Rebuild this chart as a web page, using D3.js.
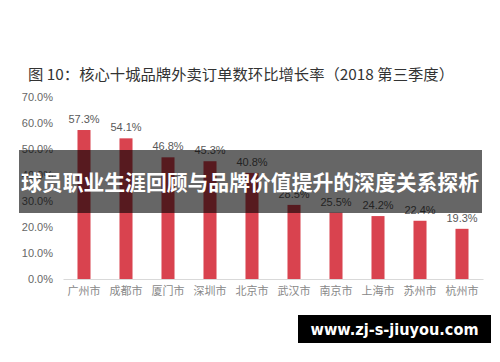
<!DOCTYPE html>
<html>
<head>
<meta charset="utf-8">
<script src="https://cdn.jsdelivr.net/npm/d3@7"></script>
<style>
  body { margin: 0; background: #fff; }
  svg { display: block; }
</style>
</head>
<body>
<div id="chart"></div>
<script>
// data
var cities = ["广州市", "成都市", "厦门市", "深圳市", "北京市", "武汉市", "南京市", "上海市", "苏州市", "杭州市"];
var growth = [57.3, 54.1, 46.8, 45.3, 40.8, 28.5, 25.5, 24.2, 22.4, 19.3];
var yTicks = [0, 10, 20, 30, 40, 50, 60, 70];
var titleText = "图 10：核心十城品牌外卖订单数环比增长率（2018 第三季度）";
var bannerText = "球员职业生涯回顾与品牌价值提升的深度关系探析";
var markText = "www.zj-s-jiuyou.com";

var width = 500, height = 362;
var margins = { top: 97, right: 17, bottom: 83, left: 63 };
var barColor = "#d9434f";
var sans = "'Liberation Sans', Arial, sans-serif";
var cjk = "'Noto Sans CJK SC', sans-serif";

var svg = d3.select("#chart").append("svg")
    .attr("width", width)
    .attr("height", height);

var x = d3.scaleBand()
    .domain(cities)
    .range([margins.left, width - margins.right])
    .paddingInner(0.69)
    .paddingOuter(0.345);

var y = d3.scaleLinear()
    .domain([0, 70])
    .range([height - margins.bottom, margins.top]);

// title
svg.append("text")
    .attr("x", 28)
    .attr("y", 80)
    .attr("font-family", cjk)
    .attr("font-size", 15)
    .attr("fill", "#333")
    .attr("textLength", 426)
    .attr("lengthAdjust", "spacingAndGlyphs")
    .text(titleText);

// y axis labels (no axis line)
var yAxis = d3.axisLeft(y)
    .tickValues(yTicks)
    .tickSize(0)
    .tickPadding(10)
    .tickFormat(function (d) { return d3.format(".1f")(d) + "%"; });

var gy = svg.append("g")
    .attr("transform", "translate(" + margins.left + ",0)")
    .call(yAxis);
gy.select(".domain").remove();
gy.selectAll("text")
    .attr("font-family", sans)
    .attr("font-size", 11)
    .attr("fill", "#666");

// bars
svg.append("g").selectAll("rect")
    .data(growth)
    .join("rect")
    .attr("x", function (d, i) { return x(cities[i]); })
    .attr("y", function (d) { return y(d); })
    .attr("width", x.bandwidth())
    .attr("height", function (d) { return y(0) - y(d); })
    .attr("fill", barColor);

// value labels
svg.append("g").selectAll("text")
    .data(growth)
    .join("text")
    .attr("x", function (d, i) { return x(cities[i]) + x.bandwidth() / 2; })
    .attr("y", function (d) { return y(d) - 7; })
    .attr("text-anchor", "middle")
    .attr("font-family", sans)
    .attr("font-size", 11)
    .attr("fill", "#595959")
    .text(function (d) { return d.toFixed(1) + "%"; });

// x axis
var xAxis = d3.axisBottom(x).tickSize(0).tickPadding(8);
var gx = svg.append("g")
    .attr("transform", "translate(0," + y(0) + ")")
    .call(xAxis);
gx.select(".domain").attr("stroke", "#d9d9d9");
gx.selectAll("text")
    .attr("font-family", cjk)
    .attr("font-size", 11)
    .attr("fill", "#888");

// overlay banner
svg.append("rect")
    .attr("x", 19)
    .attr("y", 150)
    .attr("width", 463)
    .attr("height", 63)
    .attr("fill", "#000")
    .attr("fill-opacity", 0.6);

svg.append("text")
    .attr("x", width / 2)
    .attr("y", 190)
    .attr("text-anchor", "middle")
    .attr("font-family", cjk)
    .attr("font-weight", "bold")
    .attr("font-size", 21)
    .attr("fill", "#fff")
    .attr("textLength", 458)
    .attr("lengthAdjust", "spacingAndGlyphs")
    .text(bannerText);

// watermark box
svg.append("rect")
    .attr("x", 298)
    .attr("y", 315)
    .attr("width", 193)
    .attr("height", 28)
    .attr("fill", "#000");

svg.append("text")
    .attr("x", 394.5)
    .attr("y", 335)
    .attr("text-anchor", "middle")
    .attr("font-family", "'DejaVu Sans', sans-serif")
    .attr("font-weight", "bold")
    .attr("font-size", 15)
    .attr("fill", "#fff")
    .attr("textLength", 168)
    .attr("lengthAdjust", "spacingAndGlyphs")
    .text(markText);
</script>
</body>
</html>
